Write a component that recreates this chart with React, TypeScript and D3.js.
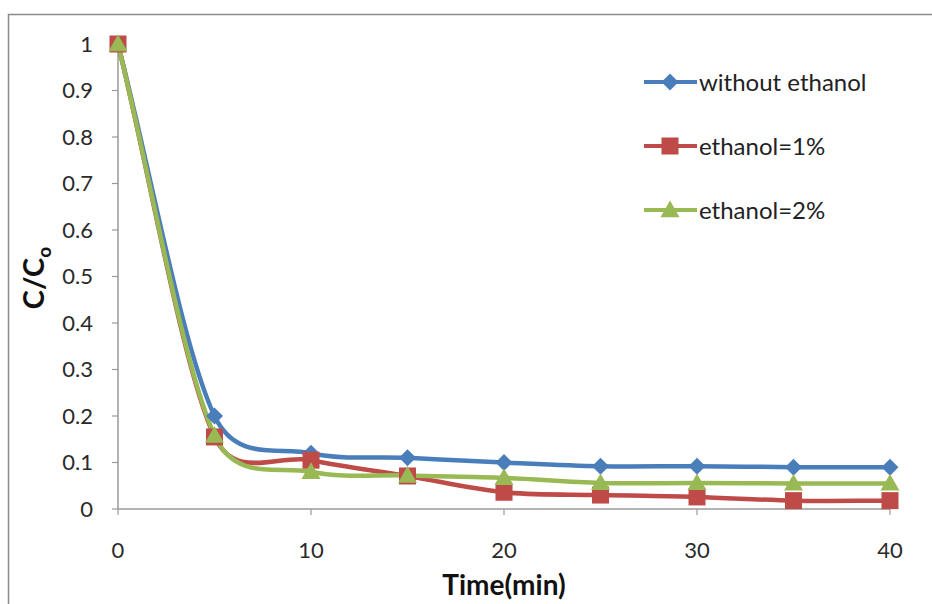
import React from "react";
import * as d3 from "d3";

// Sampling times (min)
const times = [0, 5, 10, 15, 20, 25, 30, 35, 40];

// C/Co for each run
const withoutEthanol = [1, 0.2, 0.12, 0.11, 0.1, 0.092, 0.092, 0.09, 0.09];
const ethanol1 = [1, 0.155, 0.105, 0.071, 0.036, 0.03, 0.026, 0.018, 0.018];
const ethanol2 = [1, 0.158, 0.08, 0.072, 0.067, 0.056, 0.056, 0.055, 0.055];

const seriesNames = ["without ethanol", "ethanol=1%", "ethanol=2%"];
const seriesColors = ["#4A7EBB", "#BE4B48", "#98B954"];
const seriesShapes = ["diamond", "square", "triangle"];

const xTicks = [0, 10, 20, 30, 40];
const yTicks = [0, 0.1, 0.2, 0.3, 0.4, 0.5, 0.6, 0.7, 0.8, 0.9, 1];

const W = 932;
const H = 604;
const FONT = "Lato, 'Open Sans', sans-serif";

const x = d3.scaleLinear().domain([0, 40]).range([118, 890]);
const y = d3.scaleLinear().domain([0, 1]).range([509, 44]);

// Smoothed line in the spreadsheet style: Catmull-Rom tangents whose handle
// length is capped by the length of the adjoining segment, so a long steep
// drop does not overshoot into the short flat segments that follow it.
function smoothPath(pts: [number, number][], cap = 0.5): string {
  const n = pts.length;
  const p = d3.path();
  if (n === 0) return "";
  p.moveTo(pts[0][0], pts[0][1]);
  const seg = (a: [number, number], b: [number, number]) => Math.hypot(b[0] - a[0], b[1] - a[1]);
  const dirs: [number, number][] = [];
  const base: number[] = [];
  for (let i = 0; i < n; i++) {
    const a = pts[Math.max(0, i - 1)];
    const b = pts[Math.min(n - 1, i + 1)];
    const dx = b[0] - a[0];
    const dy = b[1] - a[1];
    const len = Math.hypot(dx, dy) || 1;
    dirs.push([dx / len, dy / len]);
    base.push(i === 0 || i === n - 1 ? len / 3 : len / 6);
  }
  for (let i = 0; i < n - 1; i++) {
    const L = seg(pts[i], pts[i + 1]);
    const dOut = Math.min(base[i], cap * L);
    const dIn = Math.min(base[i + 1], cap * L);
    p.bezierCurveTo(
      pts[i][0] + dirs[i][0] * dOut,
      pts[i][1] + dirs[i][1] * dOut,
      pts[i + 1][0] - dirs[i + 1][0] * dIn,
      pts[i + 1][1] - dirs[i + 1][1] * dIn,
      pts[i + 1][0],
      pts[i + 1][1]
    );
  }
  return p.toString();
}

function Marker({ shape, cx, cy, color }: { shape: string; cx: number; cy: number; color: string }) {
  if (shape === "diamond") {
    const r = 8.5;
    return (
      <path
        d={`M${cx},${cy - r}L${cx + r},${cy}L${cx},${cy + r}L${cx - r},${cy}Z`}
        fill={color}
      />
    );
  }
  if (shape === "square") {
    const s = 17;
    return <rect x={cx - s / 2} y={cy - s / 2} width={s} height={s} fill={color} />;
  }
  const r = 9.5;
  return (
    <path
      d={`M${cx},${cy - r}L${cx + r},${cy + r * 0.75}L${cx - r},${cy + r * 0.75}Z`}
      fill={color}
    />
  );
}

export default function App() {
  const allSeries = [withoutEthanol, ethanol1, ethanol2];
  const legendY = [82, 146, 210];

  return (
    <svg
      width={W}
      height={H}
      style={{ position: "absolute", left: 0, top: 0, background: "#fff" }}
      fontFamily={FONT}
    >
      <rect x={0} y={0} width={W} height={H} fill="#fff" />
      {/* outer chart frame */}
      <path d={`M8.5,${H}L8.5,14.5L${W},14.5`} fill="none" stroke="#8a8a8a" strokeWidth={1.5} />

      {/* axes */}
      <line x1={x(0)} x2={x(40)} y1={y(0)} y2={y(0)} stroke="#9a9a9a" strokeWidth={1.5} />
      <line x1={x(0)} x2={x(0)} y1={y(0)} y2={y(1)} stroke="#9a9a9a" strokeWidth={1.5} />
      {yTicks.map((t) => (
        <g key={`y${t}`}>
          <line x1={x(0) - 6} x2={x(0)} y1={y(t)} y2={y(t)} stroke="#9a9a9a" strokeWidth={1.2} />
          <text
            x={93}
            y={y(t)}
            dy="0.36em"
            textAnchor="end"
            fontSize={22}
            fill="#2a2a2a"
          >
            {d3.format("")(+t.toFixed(1))}
          </text>
        </g>
      ))}
      {xTicks.map((t) => (
        <g key={`x${t}`}>
          <line x1={x(t)} x2={x(t)} y1={y(0)} y2={y(0) + 6} stroke="#9a9a9a" strokeWidth={1.2} />
          <text x={x(t)} y={558} textAnchor="middle" fontSize={22} fill="#2a2a2a">
            {t}
          </text>
        </g>
      ))}

      {/* axis titles */}
      <text x={504} y={595} textAnchor="middle" fontSize={28} fontWeight="bold" fill="#111">
        Time(min)
      </text>
      <text
        transform="translate(44,278) rotate(-90)"
        textAnchor="middle"
        fontSize={29}
        fontWeight="bold"
        fill="#111"
      >
        C/C<tspan fontSize={19} dy={7}>o</tspan>
      </text>

      {/* series */}
      {allSeries.map((vals, si) => (
        <path
          key={`l${si}`}
          d={smoothPath(vals.map((v, i) => [x(times[i]), y(v)] as [number, number]))}
          fill="none"
          stroke={seriesColors[si]}
          strokeWidth={4.5}
          strokeLinejoin="round"
        />
      ))}
      {allSeries.map((vals, si) =>
        vals.map((v, i) => (
          <Marker
            key={`m${si}-${i}`}
            shape={seriesShapes[si]}
            cx={x(times[i])}
            cy={y(v)}
            color={seriesColors[si]}
          />
        ))
      )}

      {/* legend */}
      {seriesNames.map((name, si) => (
        <g key={`lg${si}`}>
          <line
            x1={644}
            x2={697}
            y1={legendY[si]}
            y2={legendY[si]}
            stroke={seriesColors[si]}
            strokeWidth={4}
          />
          <Marker shape={seriesShapes[si]} cx={670} cy={legendY[si]} color={seriesColors[si]} />
          <text x={699} y={legendY[si]} dy="0.36em" fontSize={24} fill="#222">
            {name}
          </text>
        </g>
      ))}
    </svg>
  );
}
